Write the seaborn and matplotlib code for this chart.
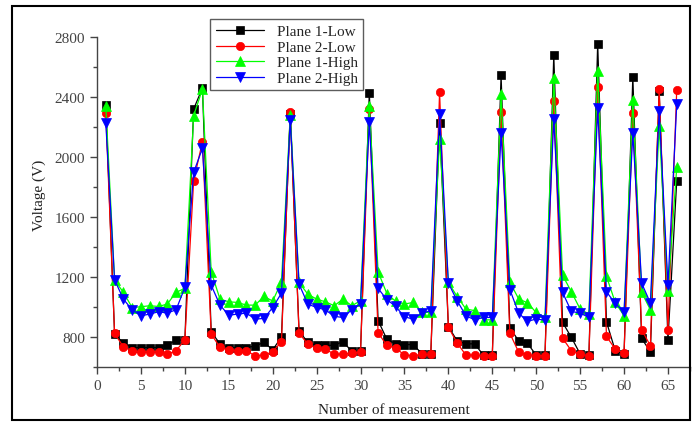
import pandas as pd
import seaborn as sns
import matplotlib.pyplot as plt
from matplotlib.patches import Rectangle
from matplotlib.ticker import MultipleLocator

# measurement numbers 1..66
measurement = list(range(1, 67))

plane1_low = [2350, 820, 760, 730, 730, 730, 730, 745, 780, 780,
              2320, 2460, 835, 755, 730, 730, 730, 740, 765, 715,
              800, 2290, 840, 765, 745, 745, 745, 770, 705, 705,
              2430, 910, 785, 755, 750, 750, 688, 688, 2230, 870,
              775, 755, 755, 678, 678, 2545, 862, 775, 758, 680,
              678, 2680, 898, 798, 688, 678, 2757, 902, 709, 687,
              2535, 791, 702, 2440, 780, 1842]

plane2_low = [2293, 824, 735, 709, 702, 702, 702, 686, 709, 782,
              1842, 2102, 820, 731, 715, 709, 709, 675, 680, 702,
              770, 2298, 826, 753, 724, 720, 686, 686, 693, 702,
              2320, 828, 745, 727, 680, 676, 684, 684, 2431, 866,
              760, 680, 680, 676, 676, 2298, 825, 700, 682, 676,
              676, 2375, 793, 709, 687, 676, 2464, 804, 720, 691,
              2297, 849, 742, 2453, 848, 2449]

plane1_high = [2338, 1180, 1098, 997, 1002, 1009, 1004, 1020, 1098, 1125,
               2276, 2453, 1235, 1053, 1035, 1031, 1013, 1013, 1071, 1040,
               1169, 2280, 1164, 1086, 1053, 1035, 1009, 1053, 1009, 1042,
               2342, 1235, 1090, 1038, 1020, 1031, 964, 965, 2120, 1164,
               1070, 987, 976, 915, 915, 2420, 1166, 1055, 1028, 964,
               931, 2524, 1213, 1102, 987, 953, 2575, 1204, 1031, 942,
               2382, 1098, 982, 2209, 1105, 1931]

plane2_high = [2227, 1182, 1053, 982, 942, 953, 969, 960, 982, 1131,
               1898, 2058, 1146, 1013, 946, 953, 960, 920, 924, 997,
               1093, 2249, 1153, 1020, 997, 982, 938, 931, 982, 1020,
               2235, 1124, 1050, 1004, 935, 920, 960, 976, 2286, 1160,
               1042, 942, 915, 931, 931, 2160, 1117, 960, 905, 920,
               913, 2257, 1098, 971, 960, 931, 2324, 1102, 1024, 969,
               2160, 1160, 1027, 2309, 1145, 2353]

series = [("Plane 1-Low", plane1_low, "black", "s", 5.5),
          ("Plane 2-Low", plane2_low, "red", "o", 6),
          ("Plane 1-High", plane1_high, "#00ff00", "^", 7),
          ("Plane 2-High", plane2_high, "blue", "v", 7)]

sns.set_style("ticks")
plt.rcParams['font.family'] = ['Liberation Serif', 'DejaVu Serif']

fig = plt.figure(figsize=(7, 4.27), dpi=100)
ax = fig.add_axes([0.1386, 0.138, 0.847, 0.808])

for name, vals, col, mk, ms in series:
    df = pd.DataFrame({"x": measurement, "y": vals})
    sns.lineplot(data=df, x="x", y="y", ax=ax, color=col, marker=mk,
                 markersize=ms, markeredgecolor=col, markeredgewidth=0.5,
                 linewidth=0.9, label=name)

ax.set_xlim(0, 67.5)
ax.set_ylim(600, 2900)
ax.xaxis.set_major_locator(MultipleLocator(5))
ax.xaxis.set_minor_locator(MultipleLocator(2.5))
ax.set_yticks([800, 1200, 1600, 2000, 2400, 2800])
ax.set_yticks([600, 1000, 1400, 1800, 2200, 2600], minor=True)
ax.tick_params(axis='both', which='major', length=5, width=1, labelsize=11,
               colors='#444444')
ax.tick_params(axis='both', which='minor', length=3, width=1, colors='#444444')

for s in ["top", "right"]:
    ax.spines[s].set_visible(False)
for s in ["left", "bottom"]:
    ax.spines[s].set_color('#444444')
    ax.spines[s].set_linewidth(1)
ax.spines["left"].set_bounds(600, 2800)

ax.set_xlabel("Number of measurement", fontsize=11, color='#222222', labelpad=8)
ax.set_ylabel("Voltage (V)", fontsize=11, color='#222222', labelpad=6)

leg = ax.legend(loc="upper left", bbox_to_anchor=(0.178, 1.03), fontsize=11,
                frameon=True, fancybox=False, edgecolor='#333333',
                handlelength=3.2, borderpad=0.35, labelspacing=0.12)
leg.get_frame().set_linewidth(1)

# outer border of the picture
fig.patches.append(Rectangle((12 / 700, 1 - 421 / 427), 678 / 700, 414 / 427,
                             transform=fig.transFigure, fill=False,
                             edgecolor='black', linewidth=1.5))

fig.savefig("out.png", dpi=100)
